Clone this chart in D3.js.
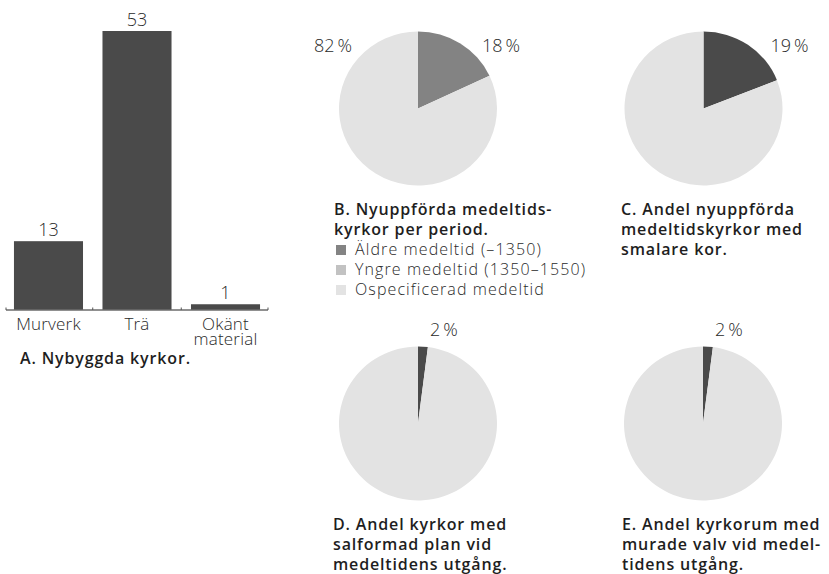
<!DOCTYPE html>
<html>
<head>
<meta charset="utf-8">
<script src="https://d3js.org/d3.v7.min.js"></script>
<style>
  body { margin: 0; background: #fff; }
  svg { display: block; font-family: "Open Sans", sans-serif; }
  .lbl { font-weight: 300; font-size: 16px; fill: #2a2a2a; letter-spacing: 1.1px; }
  .cat { font-weight: 300; font-size: 17px; fill: #2a2a2a; letter-spacing: 0.2px; }
  .num { font-weight: 300; font-size: 18px; fill: #2a2a2a; }
  .cap { font-weight: 600; font-size: 16px; fill: #1e1e1e; letter-spacing: 0.85px; }
</style>
</head>
<body>
<svg id="chart" width="829" height="574"></svg>
<script>
// A. bar chart data
const barCategories = ['Murverk', 'Trä', 'Okänt material'];
const barValues = [13, 53, 1];

// B. pie per period
const periodNames = ['Äldre medeltid (–1350)', 'Yngre medeltid (1350–1550)', 'Ospecificerad medeltid'];
const periodValues = [18, 0, 82];

// C, D, E: share pies (share, rest)
const pieC = [19, 81];
const pieD = [2, 98];
const pieE = [2, 98];

const captionA = ['A. Nybyggda kyrkor.'];
const captionB = ['B. Nyuppförda medeltids-', 'kyrkor per period.'];
const captionC = ['C. Andel nyuppförda', 'medeltidskyrkor med', 'smalare kor.'];
const captionD = ['D. Andel kyrkor med', 'salformad plan vid', 'medeltidens utgång.'];
const captionE = ['E. Andel kyrkorum med', 'murade valv vid medel-', 'tidens utgång.'];

const periodColors = ['#838383', '#c2c2c2', '#e3e3e3'];
const dark = '#4a4a4a';
const light = '#e3e3e3';

const svg = d3.select('#chart');

// ---- bar chart ----
const x = d3.scaleBand()
    .domain(barCategories)
    .range([6, 268])
    .paddingInner(0.22)
    .paddingOuter(0.09);

const y = d3.scaleLinear()
    .domain([0, 53])
    .range([309.5, 31]);

svg.selectAll('rect.bar')
    .data(barValues)
    .enter()
    .append('rect')
    .attr('class', 'bar')
    .attr('x', (d, i) => x(barCategories[i]))
    .attr('y', d => y(d))
    .attr('width', x.bandwidth())
    .attr('height', d => y(0) - y(d))
    .attr('fill', dark);

svg.selectAll('text.val')
    .data(barValues)
    .enter()
    .append('text')
    .attr('class', 'num')
    .attr('text-anchor', 'middle')
    .attr('x', (d, i) => x(barCategories[i]) + x.bandwidth() / 2)
    .attr('y', d => y(d) - 5)
    .text(d => d);

// axis line with small ticks between the bars
const gap = x.step() * x.paddingInner();
const tickPos = [x.range()[0]]
    .concat(barCategories.slice(0, -1).map(c => x(c) + x.bandwidth() + gap / 2))
    .concat([x.range()[1]]);

svg.append('line')
    .attr('x1', x.range()[0]).attr('x2', x.range()[1])
    .attr('y1', y(0) + 0.5).attr('y2', y(0) + 0.5)
    .attr('stroke', '#222').attr('stroke-width', 1);

svg.selectAll('line.tick')
    .data(tickPos)
    .enter()
    .append('line')
    .attr('x1', d => d).attr('x2', d => d)
    .attr('y1', y(0) + 0.5).attr('y2', y(0) - 2)
    .attr('stroke', '#555').attr('stroke-width', 1);

// category labels, multi-word ones wrapped on two tight lines
barCategories.forEach(c => {
    const t = svg.append('text')
        .attr('class', 'cat')
        .attr('text-anchor', 'middle');
    c.split(' ').forEach((w, i) => {
        t.append('tspan')
            .attr('x', x(c) + x.bandwidth() / 2)
            .attr('y', y(0) + 20 + i * 15)
            .text(w);
    });
});

function caption(lines, cx, cy, lh) {
    const t = svg.append('text').attr('class', 'cap');
    t.selectAll('tspan')
        .data(lines)
        .enter()
        .append('tspan')
        .attr('x', cx)
        .attr('y', (d, i) => cy + i * lh)
        .text(d => d);
}

caption(captionA, 20, 364, 20);

// ---- pies ----
const pie = d3.pie().sort(null).value(d => d);
const rx = 79;
const ry = 77;
const arc = d3.arc().innerRadius(0).outerRadius(rx);

function drawPie(values, colors, cx, cy, labels) {
    const g = svg.append('g')
        .attr('transform', `translate(${cx},${cy}) scale(1,${ry / rx})`);
    g.selectAll('path')
        .data(pie(values))
        .enter()
        .append('path')
        .attr('d', arc)
        .attr('fill', (d, i) => colors[i]);
    svg.selectAll(null)
        .data(labels)
        .enter()
        .append('text')
        .attr('class', 'num')
        .attr('text-anchor', 'middle')
        .attr('x', d => cx + d.dx)
        .attr('y', d => cy + d.dy)
        .text(d => values[d.i] + '\u2009%');
}

drawPie(periodValues, periodColors, 418, 108.5, [
    { i: 2, dx: -85, dy: -57 },
    { i: 0, dx: 83, dy: -57 }
]);
drawPie(pieC, [dark, light], 703.5, 108.5, [{ i: 0, dx: 86, dy: -57 }]);
drawPie(pieD, [dark, light], 418, 423.5, [{ i: 0, dx: 26, dy: -88 }]);
drawPie(pieE, [dark, light], 703, 423.5, [{ i: 0, dx: 26, dy: -88 }]);

caption(captionB, 334, 215, 20);
caption(captionC, 621, 215, 20);
caption(captionD, 333, 530, 20);
caption(captionE, 622, 530, 20);

// legend for B
const leg = svg.selectAll('g.leg')
    .data(periodNames)
    .enter()
    .append('g')
    .attr('transform', (d, i) => `translate(336, ${255 + i * 20})`);

leg.append('rect')
    .attr('x', 0).attr('y', -10)
    .attr('width', 10).attr('height', 10)
    .attr('fill', (d, i) => periodColors[i]);

leg.append('text')
    .attr('class', 'lbl')
    .attr('x', 19)
    .attr('y', 0)
    .text(d => d);
</script>
</body>
</html>
